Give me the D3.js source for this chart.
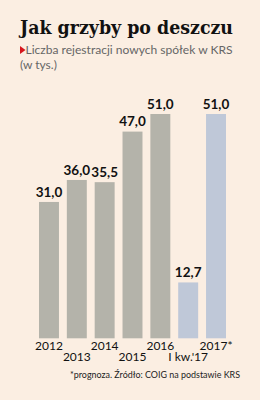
<!DOCTYPE html>
<html>
<head>
<meta charset="utf-8">
<script src="https://cdn.jsdelivr.net/npm/d3@7"></script>
<style>
  html, body { margin: 0; padding: 0; background: #fbeee2; }
  svg { display: block; }
</style>
</head>
<body>
<svg id="chart"></svg>
<script>
// data
var categories = ["2012", "2013", "2014", "2015", "2016", "I kw.'17", "2017*"];
var values = [31.0, 36.0, 35.5, 47.0, 51.0, 12.7, 51.0];
var labelRows = [0, 1, 0, 1, 0, 1, 0];
var highlighted = [false, false, false, false, false, true, true];

var svgWidth = 260, svgHeight = 400;

var svg = d3.select("#chart")
    .attr("width", svgWidth)
    .attr("height", svgHeight);

svg.append("rect")
    .attr("width", svgWidth)
    .attr("height", svgHeight)
    .attr("fill", "#fbeee2");

// title + subtitle
svg.append("text").text("Jak grzyby po deszczu")
    .attr("x", 20)
    .attr("y", 34)
    .attr("textLength", 213)
    .attr("lengthAdjust", "spacingAndGlyphs")
    .style("font", "bold 19px 'DejaVu Serif'")
    .style("fill", "#111");

svg.append("path")
    .attr("d", "M20,46 L25.5,50 L20,54 Z")
    .attr("fill", "#d7161d");

svg.append("text").text("Liczba rejestracji nowych spółek w KRS")
    .attr("x", 25.5)
    .attr("y", 54)
    .attr("textLength", 207)
    .attr("lengthAdjust", "spacingAndGlyphs")
    .style("font", "12px Lato")
    .style("fill", "#666");

svg.append("text").text("(w tys.)")
    .attr("x", 20)
    .attr("y", 68.5)
    .style("font", "12px Lato")
    .style("fill", "#666");

// scales
var x = d3.scaleBand()
    .domain(categories)
    .range([39, 226])
    .paddingInner(0.283)
    .paddingOuter(0);

var y = d3.scaleLinear()
    .domain([0, 51])
    .range([338.3, 114]);

var data = categories.map(function(c, i) {
    return {cat: c, value: values[i], row: labelRows[i], hi: highlighted[i]};
});

svg.selectAll(".bar")
    .data(data)
    .enter()
    .append("rect")
    .attr("class", "bar")
    .attr("x", function(d) { return x(d.cat); })
    .attr("y", function(d) { return y(d.value); })
    .attr("width", x.bandwidth())
    .attr("height", function(d) { return y(0) - y(d.value); })
    .attr("fill", function(d) { return d.hi ? "#bfc8d8" : "#b4b3aa"; });

svg.selectAll(".val")
    .data(data)
    .enter()
    .append("text")
    .attr("class", "val")
    .attr("x", function(d) { return x(d.cat) + x.bandwidth() / 2; })
    .attr("y", function(d) { return y(d.value) - 5.3; })
    .attr("text-anchor", "middle")
    .style("font", "bold 13.5px Lato")
    .style("fill", "#111")
    .text(function(d) { return d.value.toFixed(1).replace(".", ","); });

// x axis labels on two rows
var xAxis = d3.axisBottom(x).tickSize(0).tickPadding(0);
var gx = svg.append("g")
    .attr("transform", "translate(0,338.3)")
    .call(xAxis);
gx.select(".domain").remove();
gx.selectAll(".tick text")
    .attr("dy", null)
    .attr("y", function(d, i) { return labelRows[i] ? 22.7 : 11.7; })
    .style("font", "12px Lato")
    .style("fill", "#111");

// footnote
svg.append("text").text("*prognoza. Źródło: COIG na podstawie KRS")
    .attr("x", 240)
    .attr("y", 377.5)
    .attr("text-anchor", "end")
    .attr("textLength", 170)
    .attr("lengthAdjust", "spacingAndGlyphs")
    .style("font", "9.5px Lato")
    .style("fill", "#222");
</script>
</body>
</html>
